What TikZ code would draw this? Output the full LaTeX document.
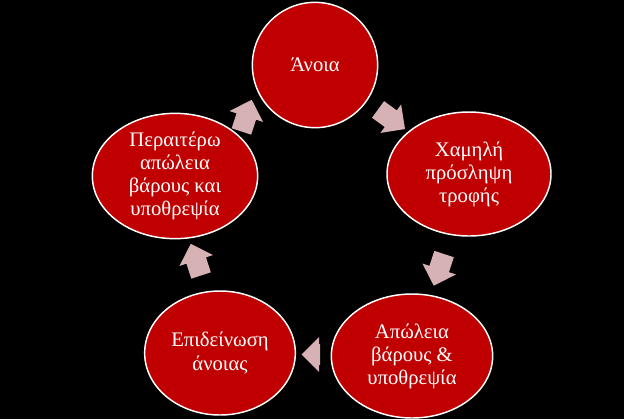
\documentclass[tikz,border=0pt]{standalone}
\usepackage{fontspec}
\setmainfont{Liberation Serif}
\usetikzlibrary{calc,shapes.geometric,shapes.arrows}
\definecolor{cyclered}{RGB}{192,0,0}
\definecolor{arrowpink}{RGB}{215,178,180}
\tikzset{
	stage/.style={ellipse, draw=white, line width=1.1pt, fill=cyclered, text=white, align=center, inner sep=0pt, font=\fontsize{15.5}{17.3}\selectfont},
	turn/.style={single arrow, draw=none, fill=arrowpink, inner xsep=0pt, inner ysep=7.5pt, single arrow head extend=5.5pt, minimum height=#1},
	turn/.default=25pt
}

\begin{document}
\begin{tikzpicture}[x=0.75pt, y=-0.75pt]
		%%%%% START %%%%%
		
		\fill[black] (0, 0) rectangle (624, 419);
		\useasboundingbox (0, 0) rectangle (624, 419);
		
		\node[stage, minimum width=94pt, minimum height=94pt] (n1) at (315, 65) {Άνοια};
		\node[stage, minimum width=123pt, minimum height=93pt] (n2) at (469, 174) {Χαμηλή\\πρόσληψη\\τροφής};
		\node[stage, minimum width=121pt, minimum height=93pt] (n3) at (412, 356) {Απώλεια\\βάρους \&\\υποθρεψία};
		\node[stage, minimum width=113pt, minimum height=93pt] (n4) at (220, 353) {Επιδείνωση\\άνοιας};
		\node[stage, minimum width=124pt, minimum height=94pt] (n5) at (175, 176) {Περαιτέρω\\απώλεια\\βάρους και\\υποθρεψία};
		
		\node[turn, rotate=-36] (t12) at ($(n1)!0.47!(n2)$) {};
		\node[turn, rotate=-108] (t23) at ($(n2)!0.5!(n3)$) {};
		\node[turn=14pt, rotate=180] (t34) at ($(n3)!0.5!(n4)$) {};
		\node[turn, rotate=108] (t45) at ($(n4)!0.5!(n5)$) {};
		\node[turn, rotate=72] (t51) at ($(n5)!0.5!(n1)$) {};
		
		%%%%% END %%%%%
	\end{tikzpicture}
\end{document}
